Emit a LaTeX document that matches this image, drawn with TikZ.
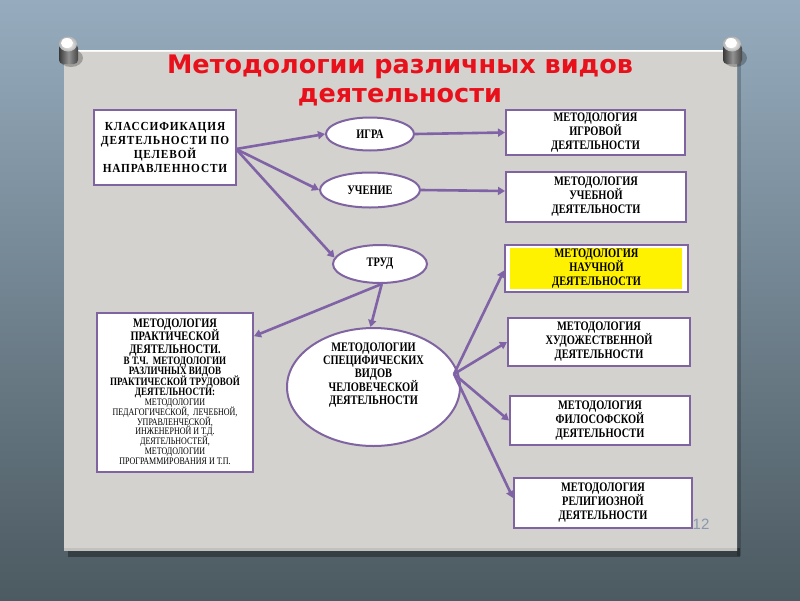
\documentclass[tikz,border=0pt]{standalone}
\usepackage{fontspec}
\setmainfont{Liberation Serif}
\newfontfamily\cf[FakeStretch=0.8]{Liberation Serif}
\newfontfamily\clsf[FakeStretch=0.92,LetterSpace=7]{Liberation Serif}
\newfontfamily\titlefont{DejaVu Sans}
\newfontfamily\numfont{Liberation Sans}
\newcommand\mytightlines{\lineskiplimit=-30pt\relax}
\usetikzlibrary{shapes.geometric,arrows.meta,calc}
\definecolor{bgtop}{HTML}{96ACBE}
\definecolor{bgbot}{HTML}{4C5A61}
\definecolor{panel}{HTML}{D3D2CE}
\definecolor{frame}{HTML}{8064A2}
\definecolor{arrowc}{HTML}{7F63A6}
\definecolor{titlered}{HTML}{E8101A}
\definecolor{numc}{HTML}{8797AE}
\begin{document}
\begin{tikzpicture}[x=1pt,y=-1pt,
  boxnode/.style={draw=frame, line width=2pt, fill=white, rectangle, align=center,
     font=\cf\bfseries\fontsize{13}{14}\selectfont, inner sep=0pt},
  ellnode/.style={draw=frame, line width=2pt, fill=white, ellipse, align=center,
     font=\cf\bfseries\fontsize{13}{13}\selectfont, inner sep=0pt},
  conn/.style={draw=arrowc, line width=2.6pt, -{Triangle[length=7pt,width=8pt]}}]
% background
\useasboundingbox (0,0) rectangle (800,600);
\shade[top color=bgtop, bottom color=bgbot] (0,0) rectangle (800,600);
% panel shadow
\fill[black, opacity=0.35] (68,548) rectangle (740,557);
\fill[black, opacity=0.2] (737,54) rectangle (741,556);
% panel
\shade[top color=white!80!panel, bottom color=panel!92!black] (64,50) rectangle (737,550);
\fill[panel] (64,52) rectangle (737,548);
\draw[white, line width=1.2pt] (64,50.6) -- (737,50.6);
% pins
\foreach \px in {68,732}{
  \fill[black, opacity=0.25] (\px+3,58) ellipse (12 and 9);
  \shade[left color=gray!45!black, right color=gray!55!black, middle color=gray!85, rounded corners=4pt] (\px-9,44) rectangle (\px+10,64);
  \shade[inner color=white, outer color=gray!60] (\px,44) ellipse (9 and 7.5);
  \fill[white] (\px-1,43) ellipse (6 and 5);
}
% title
\node[font=\titlefont\bfseries\fontsize{25.5}{30}\selectfont, text=titlered] (title1) at (400,67) {Методологии различных видов};
\node[font=\titlefont\bfseries\fontsize{25.5}{30}\selectfont, text=titlered] (title2) at (400,97) {деятельности};
% nodes
\node[boxnode, minimum width=142pt, minimum height=75pt, font=\clsf\bfseries\fontsize{12.3}{14.3}\selectfont] (cls) at (165,147.5)
  {КЛАССИФИКАЦИЯ\\ДЕЯТЕЛЬНОСТИ ПО\\ЦЕЛЕВОЙ\\НАПРАВЛЕННОСТИ};
\node[ellnode, minimum width=88pt, minimum height=33pt] (igra) at (370,134) {ИГРА};
\node[ellnode, minimum width=100pt, minimum height=35pt] (uch) at (370,190) {УЧЕНИЕ};
\node[ellnode, minimum width=94pt, minimum height=38pt] (trud) at (380,264) {ТРУД};
\node[boxnode, minimum width=179pt, minimum height=45pt] (mig) at (595.5,132.5)
  {МЕТОДОЛОГИЯ\\ИГРОВОЙ\\ДЕЯТЕЛЬНОСТИ};
\node[boxnode, minimum width=180pt, minimum height=50pt] (much) at (596,197)
  {МЕТОДОЛОГИЯ\\УЧЕБНОЙ\\ДЕЯТЕЛЬНОСТИ};
\node[boxnode, minimum width=183pt, minimum height=47pt] (mnauch) at (596.5,268.5) {};
\fill[yellow] ($(mnauch.north west)+(6,4)$) rectangle ($(mnauch.south east)+(-7,-4)$);
\node[font=\cf\bfseries\fontsize{13}{14}\selectfont, align=center, inner sep=0pt] (mnauchtext) at (mnauch.center)
  {МЕТОДОЛОГИЯ\\НАУЧНОЙ\\ДЕЯТЕЛЬНОСТИ};
\node[boxnode, minimum width=182pt, minimum height=48pt] (mhud) at (599,342)
  {МЕТОДОЛОГИЯ\\ХУДОЖЕСТВЕННОЙ\\ДЕЯТЕЛЬНОСТИ};
\node[boxnode, minimum width=180pt, minimum height=49pt] (mfil) at (600,420.5)
  {МЕТОДОЛОГИЯ\\ФИЛОСОФСКОЙ\\ДЕЯТЕЛЬНОСТИ};
\node[boxnode, minimum width=178pt, minimum height=50pt] (mrel) at (603,503)
  {МЕТОДОЛОГИЯ\\РЕЛИГИОЗНОЙ\\ДЕЯТЕЛЬНОСТИ};
\node[boxnode, minimum width=156pt, minimum height=159pt] (prac) at (175,392.5) {};
\node[font=\cf\fontsize{10}{9.7}\selectfont\mytightlines, align=center, inner sep=0pt] (practext) at ($(prac.center)+(0,-1)$)
  {{\bfseries\fontsize{13}{13}\selectfont МЕТОДОЛОГИЯ}\\[3.3pt]
   {\bfseries\fontsize{13}{13}\selectfont ПРАКТИЧЕСКОЙ}\\[3.3pt]
   {\bfseries\fontsize{13}{13}\selectfont ДЕЯТЕЛЬНОСТИ.}\\[1.3pt]
   {\bfseries\fontsize{11.3}{11}\selectfont В Т.Ч. \ МЕТОДОЛОГИИ}\\[0.8pt]
   {\bfseries\fontsize{11.3}{11}\selectfont РАЗЛИЧНЫХ ВИДОВ}\\[0.8pt]
   {\bfseries\fontsize{11.3}{11}\selectfont ПРАКТИЧЕСКОЙ ТРУДОВОЙ}\\[0.8pt]
   {\bfseries\fontsize{11.3}{11}\selectfont ДЕЯТЕЛЬНОСТИ:}\\[0.3pt]
   МЕТОДОЛОГИИ\\
   ПЕДАГОГИЧЕСКОЙ, \ ЛЕЧЕБНОЙ,\\
   УПРАВЛЕНЧЕСКОЙ,\\
   ИНЖЕНЕРНОЙ И Т.Д.\\
   ДЕЯТЕЛЬНОСТЕЙ,\\
   МЕТОДОЛОГИИ\\
   ПРОГРАММИРОВАНИЯ И Т.П.};
\node[ellnode, minimum width=173pt, minimum height=118pt] (spec) at (373.5,387) {};
\node[font=\cf\bfseries\fontsize{13}{13}\selectfont, align=center, inner sep=0pt] (spectext) at ($(spec.center)+(0,-12)$)
  {МЕТОДОЛОГИИ\\СПЕЦИФИЧЕСКИХ\\ВИДОВ\\ЧЕЛОВЕЧЕСКОЙ\\ДЕЯТЕЛЬНОСТИ};
% page number
\node[font=\numfont\fontsize{15}{18}\selectfont, text=numc] (pnum) at (701,524) {12};
% connectors
\coordinate (clsout) at (236,149);
\draw[conn] (clsout) -- (igra.west);
\draw[conn] (clsout) -- (uch.west);
\draw[conn] (clsout) -- (trud.172);
\draw[conn] (igra.east) -- (mig.west);
\draw[conn] (uch.east) -- ($(much.west)+(0,-6)$);
\coordinate (trudout) at (trud.-85);
\draw[conn] (trudout) -- ($(spec.north)+(-3,0)$);
\draw[conn] (trudout) -- ($(prac.north east)!0.15!(prac.south east)$);
\coordinate (hub) at (454,374);
\draw[conn] (hub) -- ($(mnauch.west)+(0,2)$);
\draw[conn] (hub) -- (mhud.west);
\draw[conn] (hub) -- (mfil.west);
\draw[conn] (hub) -- ($(mrel.west)+(0,-5)$);
\end{tikzpicture}
\end{document}
